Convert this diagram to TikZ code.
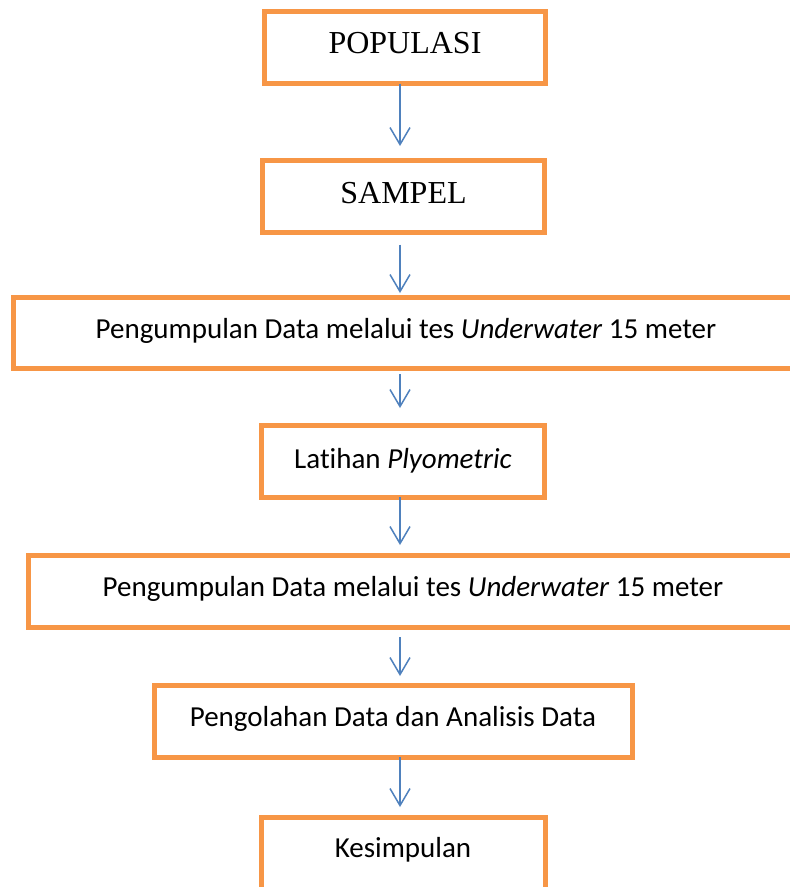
\documentclass[tikz,border=0pt]{standalone}
\usepackage{fontspec}
\setmainfont{Liberation Serif}
\newfontfamily\calfont[Ligatures=NoCommon]{Carlito}
\usetikzlibrary{arrows.meta,calc}
\definecolor{boxorange}{HTML}{F79646}
\definecolor{arrowblue}{HTML}{4F81BD}
\newcommand{\liftup}[2]{\raisebox{#1}[\height][\depth]{#2}}
\begin{document}
\begin{tikzpicture}[x=1pt,y=-1pt,
  flowbox/.style={draw=boxorange, line width=5pt, rectangle, outer sep=0pt, inner sep=0pt, minimum height=72pt, align=center},
  serifbox/.style={flowbox, font=\fontsize{32}{36}\selectfont},
  sansbox/.style={flowbox, font=\calfont\fontsize{29}{34}\selectfont},
  flowarrow/.style={draw=arrowblue, line width=1.5pt, -{Straight Barb[length=17pt,width=20pt,line width=1.5pt]}}
]
\useasboundingbox (0,0) rectangle (790,887);
\fill[white] (0,0) rectangle (790,887);
\begin{scope}
\clip (0,0) rectangle (790,887);
\coordinate (axis) at (400,0);
\node[serifbox, minimum width=281pt] (b1) at (405,47.5) {\liftup{4pt}{POPULASI}};
\node[serifbox, minimum width=282pt] (b2) at (403.5,196.5) {\liftup{3.5pt}{SAMPEL}};
\node[sansbox, minimum width=786pt, minimum height=71pt] (b3) at (406,332.5) {\liftup{2pt}{Pengumpulan Data melalui tes \textit{Underwater} 15 meter}};
\node[sansbox, minimum width=283pt] (b4) at (403,461) {Latihan \textit{Plyometric}};
\node[sansbox, minimum width=770pt] (b5) at (413,591) {\liftup{2.5pt}{Pengumpulan Data melalui tes \textit{Underwater} 15 meter}};
\node[sansbox, minimum width=478pt] (b6) at (393,721) {\liftup{2.5pt}{Pengolahan Data dan Analisis Data}};
\node[sansbox, minimum width=284pt] (b7) at (403,853) {\liftup{3.5pt}{Kesimpulan}};
\draw[flowarrow, shorten >=14.5pt] (b1.south -| axis) -- (b2.north -| axis);
\draw[flowarrow, shorten <=12pt, shorten >=4pt] (b2.south -| axis) -- (b3.north -| axis);
\draw[flowarrow, shorten <=6pt, shorten >=17pt] (b3.south -| axis) -- (b4.north -| axis);
\draw[flowarrow, shorten >=10pt] (b4.south -| axis) -- (b5.north -| axis);
\draw[flowarrow, shorten <=10pt, shorten >=9pt] (b5.south -| axis) -- (b6.north -| axis);
\draw[flowarrow, shorten >=10pt] (b6.south -| axis) -- (b7.north -| axis);
\end{scope}
\end{tikzpicture}
\end{document}
